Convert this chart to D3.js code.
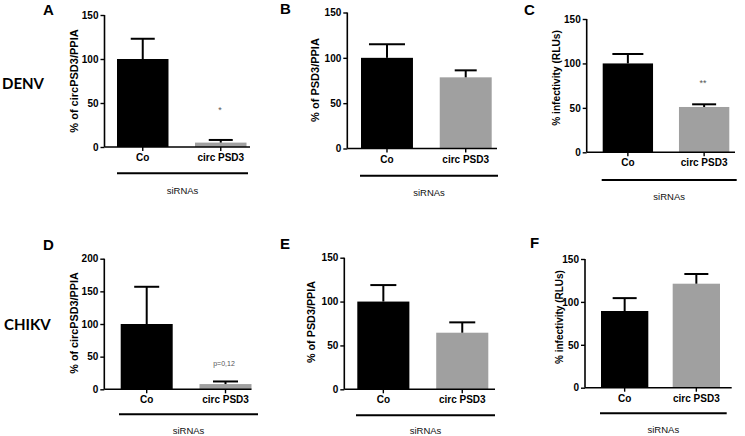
<!DOCTYPE html>
<html>
<head>
<meta charset="utf-8">
<script src="https://cdn.jsdelivr.net/npm/d3@7"></script>
<style>
  html, body { margin: 0; padding: 0; background: #fff; }
  svg { display: block; }
  text { font-family: "Liberation Sans", Arial, sans-serif; }
</style>
</head>
<body>
<svg id="chart" width="745" height="436"></svg>
<script>
// ---------------- DATA ----------------
const categories = ["Co", "circ PSD3"];
const groupLabel = "siRNAs";

const meanA = [100, 5],     semA = [23, 3];
const meanB = [100, 78.5],  semB = [15, 7.7];
const meanC = [100, 51],    semC = [10.6, 3];
const meanD = [100, 8],     semD = [57, 4];
const meanE = [100, 64.5],  semE = [18.8, 11.8];
const meanF = [89.4, 121.2], semF = [15, 11.3];

const ticks150 = [0, 50, 100, 150];
const ticks200 = [0, 50, 100, 150, 200];

const titleCirc = "% of circPSD3/PPIA";
const titleLin = "% of PSD3/PPIA";
const titleInf = "% infectivity (RLUs)";

const rowLabels = ["DENV", "CHIKV"];
const annotA = "*", annotC = "**", annotD = "p=0,12";

// ---------------- LAYOUT ----------------
const panels = [
  { letter: "A", mean: meanA, sem: semA, ticks: ticks150, yMax: 150, title: titleCirc, annot: annotA,
    L: { axisX: 104.5, yTop: 15, y0: 147, barL: 117, barR: 246.5, axisEnd: 250, lineL: 117, lineR: 248, lineY: 173.3,
         sirY: 190, titleX: 74, titleY: 81, titleSize: 11, lx: 43, ly: 15, cap: [24, 24], annX: 220, annY: 113, annSize: 9 } },
  { letter: "B", mean: meanB, sem: semB, ticks: ticks150, yMax: 150, title: titleLin, annot: "",
    L: { axisX: 347.3, yTop: 12.5, y0: 148.5, barL: 361, barR: 491.7, axisEnd: 497, lineL: 360, lineR: 498, lineY: 175.7,
         sirY: 192.5, titleX: 315, titleY: 80, titleSize: 11, lx: 280, ly: 13.5, cap: [36, 22] } },
  { letter: "C", mean: meanC, sem: semC, ticks: ticks150, yMax: 150, title: titleInf, annot: annotC,
    L: { axisX: 586.7, yTop: 19, y0: 152.3, barL: 602.7, barR: 729.3, axisEnd: 735, lineL: 601.7, lineR: 736.7, lineY: 180,
         sirY: 196.5, titleX: 556.7, titleY: 78, titleSize: 10.2, lx: 524, ly: 15, cap: [31, 24], annX: 703, annY: 86, annSize: 9 } },
  { letter: "D", mean: meanD, sem: semD, ticks: ticks200, yMax: 200, title: titleCirc, annot: annotD,
    L: { axisX: 104.3, yTop: 258.7, y0: 389.3, barL: 120.7, barR: 251.5, axisEnd: 251.5, lineL: 119, lineR: 258, lineY: 414.3,
         sirY: 430.5, titleX: 74, titleY: 323, titleSize: 10.8, lx: 43, ly: 250, cap: [25, 25], annX: 224, annY: 365.5, annSize: 7 } },
  { letter: "E", mean: meanE, sem: semE, ticks: ticks150, yMax: 150, title: titleLin, annot: "",
    L: { axisX: 344.3, yTop: 257.7, y0: 389.3, barL: 357.3, barR: 488.3, axisEnd: 495, lineL: 356, lineR: 495, lineY: 415.3,
         sirY: 430.5, titleX: 311, titleY: 322, titleSize: 10.8, lx: 280, ly: 249, cap: [26, 26] } },
  { letter: "F", mean: meanF, sem: semF, ticks: ticks150, yMax: 150, title: titleInf, annot: "",
    L: { axisX: 585, yTop: 259, y0: 387.7, barL: 601, barR: 720, axisEnd: 731.7, lineL: 600, lineR: 726.7, lineY: 413.3,
         sirY: 429, titleX: 559.3, titleY: 317, titleSize: 10, lx: 530, ly: 248, cap: [24, 24] } }
];

const barColors = ["#000000", "#a0a0a0"];

const svg = d3.select("#chart");

// row labels
svg.append("text").attr("x", 2).attr("y", 88.5).text(rowLabels[0])
  .style("font-family", "Lato, 'Open Sans', sans-serif").style("font-weight", "bold").style("font-size", "15px");
svg.append("text").attr("x", 4).attr("y", 329.5).text(rowLabels[1])
  .style("font-family", "Lato, 'Open Sans', sans-serif").style("font-weight", "bold").style("font-size", "15px");

panels.forEach(p => {
  const L = p.L;
  const g = svg.append("g");
  const y = d3.scaleLinear().domain([0, p.yMax]).range([L.y0, L.yTop]);
  const x = d3.scaleBand().domain(categories).range([L.barL, L.barR]).paddingInner(0.34).paddingOuter(0);

  // bars
  g.selectAll("rect.bar").data(categories).join("rect")
    .attr("x", d => x(d)).attr("width", x.bandwidth())
    .attr("y", (d, i) => y(p.mean[i]))
    .attr("height", (d, i) => L.y0 - y(p.mean[i]))
    .attr("fill", (d, i) => barColors[i]);

  // error bars
  categories.forEach((c, i) => {
    const cx = x(c) + x.bandwidth() / 2;
    const top = y(p.mean[i] + p.sem[i]);
    g.append("line").attr("x1", cx).attr("x2", cx).attr("y1", y(p.mean[i])).attr("y2", top)
      .attr("stroke", "#000").attr("stroke-width", 2);
    g.append("line").attr("x1", cx - L.cap[i] / 2).attr("x2", cx + L.cap[i] / 2).attr("y1", top).attr("y2", top)
      .attr("stroke", "#000").attr("stroke-width", 2);
  });

  // y axis
  const yAxis = d3.axisLeft(y).tickValues(p.ticks).tickSize(4).tickSizeOuter(0).tickPadding(2);
  const ya = g.append("g").attr("transform", `translate(${L.axisX},0)`).call(yAxis);
  ya.select(".domain").attr("stroke-width", 1.6).attr("d", `M0,${L.y0}V${L.yTop}`);
  ya.selectAll(".tick line").attr("stroke-width", 1.4);
  ya.selectAll(".tick text").style("font-size", "10px").style("font-weight", "bold")
    .style("font-family", "'Liberation Sans', Arial, sans-serif").attr("fill", "#000");

  // x axis
  const xa = g.append("g").attr("transform", `translate(0,${L.y0})`)
    .call(d3.axisBottom(x).tickSize(4).tickSizeOuter(0).tickPadding(3));
  xa.select(".domain").attr("stroke-width", 1.6).attr("d", `M${L.axisX},0H${L.axisEnd}`);
  xa.selectAll(".tick line").attr("stroke-width", 1.4);
  xa.selectAll(".tick text").style("font-size", "10px").style("font-weight", "bold")
    .style("font-family", "'Liberation Sans', Arial, sans-serif").attr("fill", "#000");

  // group line and label
  g.append("line").attr("x1", L.lineL).attr("x2", L.lineR).attr("y1", L.lineY).attr("y2", L.lineY)
    .attr("stroke", "#000").attr("stroke-width", 2);
  g.append("text").attr("x", (L.lineL + L.lineR) / 2).attr("y", L.sirY + 3.5)
    .attr("text-anchor", "middle").style("font-size", "9.5px").attr("fill", "#111").text(groupLabel);

  // y title
  g.append("text").attr("transform", `translate(${L.titleX},${L.titleY}) rotate(-90)`)
    .attr("text-anchor", "middle").attr("dy", "0.35em")
    .style("font-size", L.titleSize + "px").style("font-weight", "bold").attr("fill", "#000").text(p.title);

  // panel letter
  g.append("text").attr("x", L.lx).attr("y", L.ly).style("font-size", "15px").style("font-weight", "bold")
    .attr("fill", "#000").text(p.letter);

  // annotation
  if (p.annot) {
    g.append("text").attr("x", L.annX).attr("y", L.annY).attr("text-anchor", "middle")
      .style("font-size", L.annSize + "px").attr("fill", "#555").text(p.annot);
  }
});
</script>
</body>
</html>
